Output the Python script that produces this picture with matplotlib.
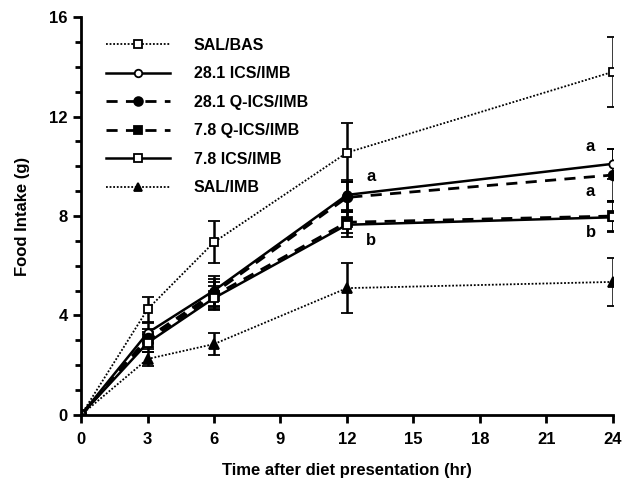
import matplotlib
matplotlib.use('Agg')
import matplotlib.pyplot as plt
from matplotlib.ticker import MultipleLocator

plt.rcParams['font.family'] = ['Liberation Sans', 'DejaVu Sans']
plt.rcParams['font.weight'] = 'bold'

time_hr = [0, 3, 6, 12, 24]

sal_bas = [0, 4.25, 6.95, 10.55, 13.8]
sal_bas_err = [0, 0.5, 0.85, 1.2, 1.4]
ics_281 = [0, 3.3, 5.0, 8.85, 10.1]
ics_281_err = [0, 0.4, 0.6, 0.6, 0.6]
qics_281 = [0, 3.1, 4.9, 8.75, 9.65]
qics_281_err = [0, 0.35, 0.55, 0.6, 1.05]
qics_78 = [0, 3.0, 4.8, 7.75, 8.0]
qics_78_err = [0, 0.35, 0.55, 0.45, 0.6]
ics_78 = [0, 2.9, 4.7, 7.65, 7.95]
ics_78_err = [0, 0.35, 0.5, 0.5, 0.6]
sal_imb = [0, 2.25, 2.85, 5.1, 5.35]
sal_imb_err = [0, 0.3, 0.45, 1.0, 0.95]

labels = ['SAL/BAS', '28.1 ICS/IMB', '28.1 Q-ICS/IMB', '7.8 Q-ICS/IMB', '7.8 ICS/IMB', 'SAL/IMB']

# significance letters
letters_x = [13.1, 13.1, 23.0, 23.0, 23.0]
letters_y = [9.6, 7.0, 10.8, 9.0, 7.35]
letters_txt = ['a', 'b', 'a', 'a', 'b']

series = [
    (sal_bas, sal_bas_err, dict(ls=(0, (1, 1)), lw=1.3, marker='s', mfc='white', ms=6)),
    (ics_281, ics_281_err, dict(ls='-', lw=1.8, marker='o', mfc='white', ms=6)),
    (qics_281, qics_281_err, dict(ls=(0, (4, 3)), lw=2.0, marker='o', mfc='black', ms=7)),
    (qics_78, qics_78_err, dict(ls=(0, (4, 3)), lw=2.0, marker='s', mfc='black', ms=7)),
    (ics_78, ics_78_err, dict(ls='-', lw=1.8, marker='s', mfc='white', ms=6)),
    (sal_imb, sal_imb_err, dict(ls=(0, (1, 1)), lw=1.3, marker='^', mfc='black', ms=7)),
]

fig = plt.figure(figsize=(6.24, 4.91), dpi=100)
ax = fig.add_axes([0.13, 0.155, 0.852, 0.81])

handles = []
for (vals, err, st), lab in zip(series, labels):
    eb = ax.errorbar(time_hr, vals, yerr=err, color='black', mec='black', mew=1.3,
                     capsize=4, capthick=2, elinewidth=1.8, label=lab, **st)
    handles.append(eb[0])

for x, y, t in zip(letters_x, letters_y, letters_txt):
    ax.text(x, y, t, fontsize=12, fontweight='bold', ha='center', va='center')

ax.set_xlim(0, 24)
ax.set_ylim(0, 16)
ax.xaxis.set_major_locator(MultipleLocator(3))
ax.yaxis.set_major_locator(MultipleLocator(4))
ax.yaxis.set_minor_locator(MultipleLocator(1))
ax.spines['top'].set_visible(False)
ax.spines['right'].set_visible(False)
ax.spines['left'].set_linewidth(2)
ax.spines['bottom'].set_linewidth(2)
ax.tick_params(axis='both', which='major', direction='out', length=6, width=2, labelsize=12)
ax.tick_params(axis='y', which='minor', direction='out', length=4, width=2)
ax.tick_params(axis='x', pad=6)
ax.set_xlabel('Time after diet presentation (hr)', fontsize=12, fontweight='bold', labelpad=12)
ax.set_ylabel('Food Intake (g)', fontsize=12, fontweight='bold', labelpad=14)
for sp in ax.spines.values():
    sp.set_clip_on(False)

ax.legend(handles, labels, loc='upper left', bbox_to_anchor=(0.02, 0.985), frameon=False,
          fontsize=11.5, handlelength=4, labelspacing=0.85, handletextpad=1.5, markerscale=0.9)

fig.savefig('out.png', dpi=100)
